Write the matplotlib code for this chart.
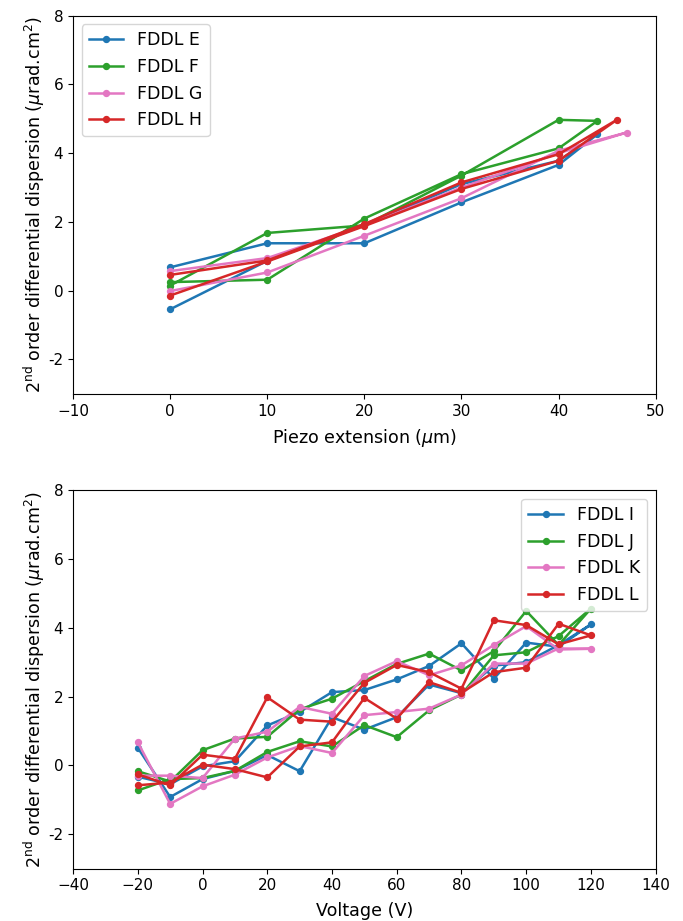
import numpy as np
import matplotlib
matplotlib.use("Agg")
import matplotlib.pyplot as plt

plt.rcParams['font.size'] = 11
plt.rcParams['axes.labelsize'] = 12.6
plt.rcParams['legend.fontsize'] = 12.5

# piezo sweeps: up to max extension and back down
piezo_E = [0, 10, 20, 30, 40, 44, 40, 30, 20, 10, 0]
disp_E = [-0.54, 0.87, 1.9, 3.1, 3.78, 4.55, 3.66, 2.57, 1.38, 1.38, 0.68]
piezo_F = [0, 10, 20, 30, 40, 44, 40, 30, 20, 10, 0]
disp_F = [0.15, 1.68, 1.9, 3.35, 4.97, 4.94, 4.14, 3.39, 2.1, 0.32, 0.25]
piezo_G = [0, 10, 20, 30, 40, 47, 40, 30, 20, 10, 0]
disp_G = [-0.01, 0.53, 1.6, 2.69, 4.07, 4.6, 4.0, 3.0, 1.9, 0.95, 0.57]
piezo_H = [0, 10, 20, 30, 40, 46, 40, 30, 20, 10, 0]
disp_H = [-0.14, 0.85, 1.88, 2.96, 3.78, 4.97, 3.97, 3.15, 1.94, 0.88, 0.46]

# voltage sweep -20 V -> 120 V -> -20 V
volts = [-20, -10, 0, 10, 20, 30, 40, 50, 60, 70, 80, 90, 100, 110, 120,
         110, 100, 90, 80, 70, 60, 50, 40, 30, 20, 10, 0, -10, -20]
disp_I = [0.51, -0.92, -0.4, -0.16, 0.3, -0.17, 1.4, 1.04, 1.4, 2.35, 2.1, 2.9, 3.0, 3.5, 4.1,
          3.45, 3.57, 2.52, 3.55, 2.89, 2.5, 2.19, 2.13, 1.55, 1.16, 0.12, -0.03, -0.55, -0.33]
disp_J = [-0.73, -0.4, -0.37, -0.16, 0.39, 0.7, 0.55, 1.17, 0.82, 1.6, 2.06, 3.2, 3.29, 3.76, 4.56,
          3.5, 4.49, 3.32, 2.76, 3.25, 2.95, 2.45, 1.94, 1.63, 0.83, 0.78, 0.44, -0.47, -0.17]
disp_K = [0.67, -1.12, -0.61, -0.27, 0.23, 0.56, 0.36, 1.46, 1.55, 1.65, 2.06, 2.96, 2.96, 3.4, 3.39,
          3.37, 4.05, 3.5, 2.91, 2.62, 3.03, 2.6, 1.5, 1.7, 0.98, 0.78, -0.37, -0.3, -0.3]
disp_L = [-0.58, -0.5, 0.02, -0.11, -0.35, 0.55, 0.67, 1.96, 1.36, 2.42, 2.11, 2.71, 2.84, 4.12, 3.78,
          3.52, 4.08, 4.22, 2.23, 2.71, 2.92, 2.4, 1.27, 1.33, 1.98, 0.19, 0.31, -0.58, -0.26]

yticks = [-2, 0, 2, 4, 6, 8]
ylab = '2$^{\\mathrm{nd}}$ order differential dispersion ($\\mu$rad.cm$^2$)'

fig = plt.figure(figsize=(6.83, 9.21), dpi=100)
fig.subplots_adjust(left=0.107, right=0.96, top=0.983, bottom=0.057, hspace=0.255)
ax1 = fig.add_subplot(2, 1, 1)
ax2 = fig.add_subplot(2, 1, 2)

kw = dict(marker='.', markersize=8.5, linewidth=1.8)
ax1.plot(piezo_E, disp_E, color='tab:blue', label='FDDL E', **kw)
ax1.plot(piezo_F, disp_F, color='tab:green', label='FDDL F', **kw)
ax1.plot(piezo_G, disp_G, color='tab:pink', label='FDDL G', **kw)
ax1.plot(piezo_H, disp_H, color='tab:red', label='FDDL H', **kw)
ax1.set_xlim(-10, 50)
ax1.set_ylim(-3, 8)
ax1.set_yticks(yticks)
ax1.set_yticklabels([str(t) for t in yticks])
ax1.set_xlabel('Piezo extension ($\\mu$m)', labelpad=6)
ax1.set_ylabel(ylab, labelpad=1)
ax1.legend(loc='upper left')

ax2.plot(volts, disp_I, color='tab:blue', label='FDDL I', **kw)
ax2.plot(volts, disp_J, color='tab:green', label='FDDL J', **kw)
ax2.plot(volts, disp_K, color='tab:pink', label='FDDL K', **kw)
ax2.plot(volts, disp_L, color='tab:red', label='FDDL L', **kw)
ax2.set_xlim(-40, 140)
ax2.set_ylim(-3, 8)
ax2.set_yticks(yticks)
ax2.set_yticklabels([str(t) for t in yticks])
ax2.set_xlabel('Voltage (V)', labelpad=6)
ax2.set_ylabel(ylab, labelpad=1)
ax2.legend(loc='upper right')

fig.savefig('out.png', dpi=100)
